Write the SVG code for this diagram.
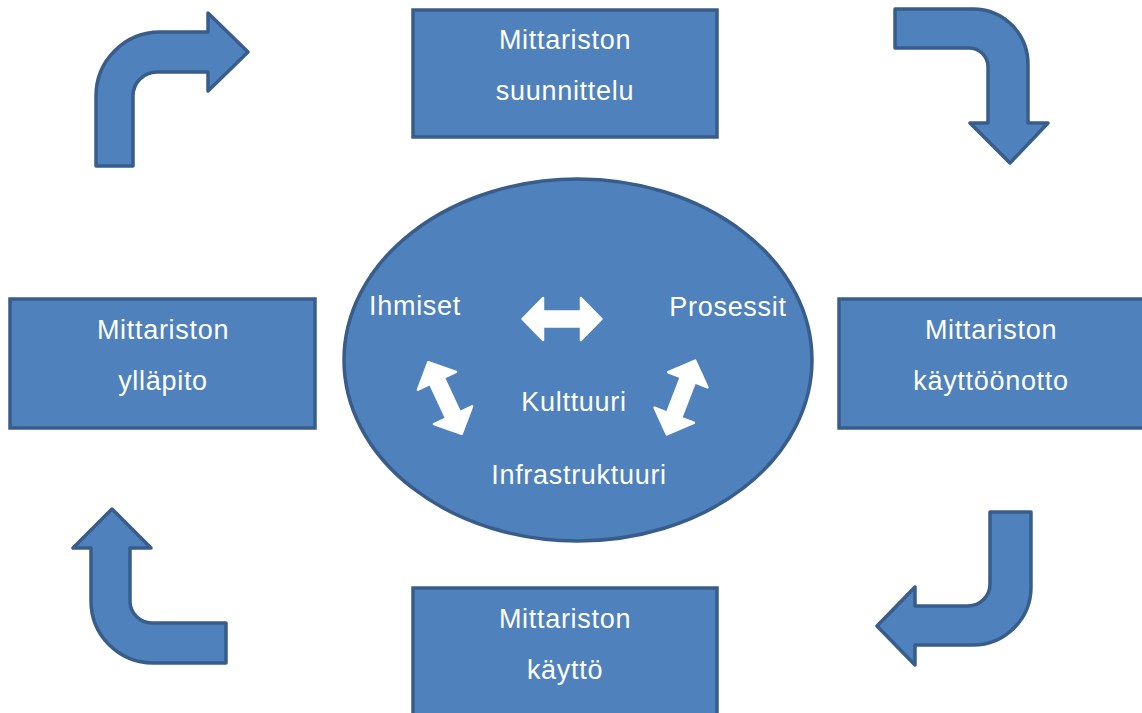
<svg xmlns="http://www.w3.org/2000/svg" width="1142" height="713" viewBox="0 0 1142 713">
<style>
.box{fill:#4F81BD;stroke:#385D8A;stroke-width:3.5}
.arr{fill:#4F81BD;stroke:#385D8A;stroke-width:3.5;stroke-linejoin:round}
.wa{fill:#FFFFFF;stroke:#FFFFFF;stroke-width:2.5;stroke-linejoin:round}
.t{font-family:"Liberation Sans",Arial,sans-serif;font-size:27px;fill:#FFFFFF;text-anchor:middle;letter-spacing:0.7px}
</style>
<defs>
<polygon id="dbl" points="-39.5,0 -19,-21 -19,-7.5 19,-7.5 19,-21 39.5,0 19,21 19,7.5 -19,7.5 -19,21"/>
</defs>
<rect width="1142" height="713" fill="#FFFFFF"/>
<g id="connectors">
<path class="arr" d="M96,166 L96,96 A64,64 0 0 1 160,32 L208,32 L208,13 L248,52 L208,91 L208,72 L157,72 A24,24 0 0 0 133,96 L133,166 Z"/>
<path class="arr" d="M895,9 L973,9 A55,55 0 0 1 1028,64 L1028,123 L1048,123 L1010,163 L970,123 L988,123 L988,67 A19,19 0 0 0 969,48 L895,48 Z"/>
<path class="arr" d="M990,512 L1031,512 L1031,587 A58,58 0 0 1 973,645 L915,645 L915,665 L877,626 L915,587 L915,606 L968,606 A22,22 0 0 0 990,584 Z"/>
<path class="arr" d="M226,623 L152,623 A22,22 0 0 1 130,601 L130,548 L151,548 L112,509 L73,548 L91,548 L91,601 A62,62 0 0 0 153,663 L226,663 Z"/>
</g>
<g id="node-top">
<rect class="box" x="413" y="10" width="304" height="127"/>
<text class="t" x="565" y="48.5">Mittariston</text>
<text class="t" x="565" y="99.5">suunnittelu</text>
</g>
<g id="node-left">
<rect class="box" x="10" y="299" width="305" height="129"/>
<text class="t" x="163" y="339">Mittariston</text>
<text class="t" x="163" y="390">ylläpito</text>
</g>
<g id="node-right">
<rect class="box" x="839" y="299" width="305" height="129"/>
<text class="t" x="991" y="339">Mittariston</text>
<text class="t" x="991" y="390">käyttöönotto</text>
</g>
<g id="node-bottom">
<rect class="box" x="413" y="588" width="304" height="127"/>
<text class="t" x="565" y="628">Mittariston</text>
<text class="t" x="565" y="679">käyttö</text>
</g>
<g id="node-center">
<ellipse class="box" cx="578" cy="360" rx="234" ry="181"/>
<text class="t" x="415" y="314.5">Ihmiset</text>
<text class="t" x="728" y="316">Prosessit</text>
<text class="t" x="574" y="411">Kulttuuri</text>
<text class="t" x="579" y="484">Infrastruktuuri</text>
<use href="#dbl" class="wa" transform="translate(562,319)"/>
<use href="#dbl" class="wa" transform="translate(445,398) rotate(65)"/>
<use href="#dbl" class="wa" transform="translate(681,397.5) rotate(-69)"/>
</g>
</svg>
